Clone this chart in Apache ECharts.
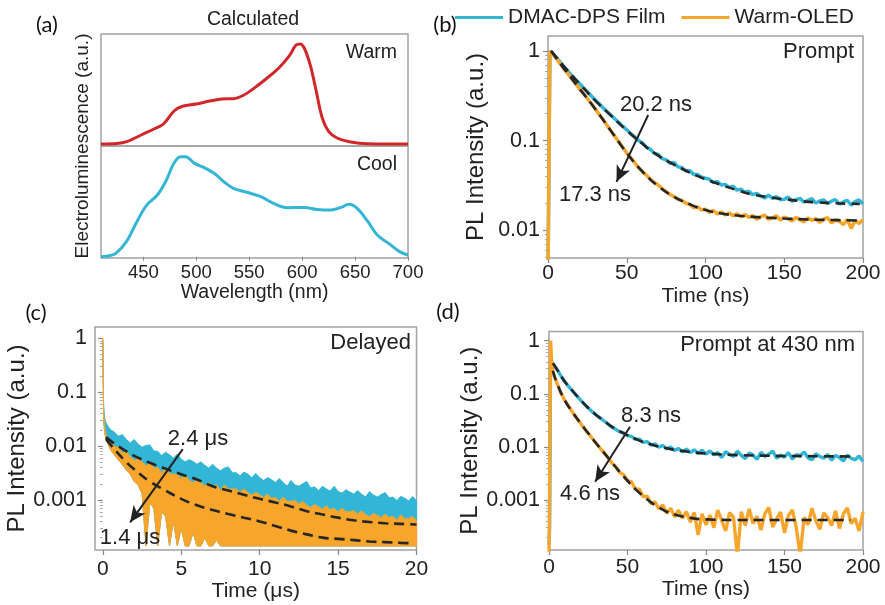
<!DOCTYPE html>
<html>
<head>
<meta charset="utf-8">
<script src="https://cdn.jsdelivr.net/npm/echarts@6/dist/echarts.min.js"></script>
<style>
  html, body { margin: 0; padding: 0; background: #fff; }
  #chart { width: 885px; height: 605px; }
</style>
</head>
<body>
<div id="chart"></div>
<script>
// (a) calculated EL spectra
var aWarmNm = [410, 425, 435, 450, 460, 469, 479, 487, 500, 513, 524, 535, 545, 557, 567, 578, 588, 594, 598, 602, 608, 613, 619, 625, 633, 646, 662, 700];
var aWarm = [0, 0.005, 0.027, 0.10, 0.15, 0.20, 0.33, 0.377, 0.40, 0.43, 0.45, 0.453, 0.49, 0.577, 0.66, 0.76, 0.883, 0.987, 1.0, 0.96, 0.777, 0.543, 0.26, 0.127, 0.06, 0.02, 0.003, 0];
var aCoolNm = [410, 418, 424, 434, 444, 453, 463, 471, 479, 485, 490, 498, 507, 518, 526, 535, 548, 561, 573, 586, 602, 614, 627, 637, 644, 652, 662, 671, 682, 692, 700];
var aCool = [0, 0.01, 0.033, 0.15, 0.35, 0.51, 0.61, 0.745, 0.93, 0.993, 0.993, 0.93, 0.887, 0.82, 0.745, 0.68, 0.64, 0.596, 0.53, 0.487, 0.49, 0.47, 0.464, 0.49, 0.52, 0.48, 0.35, 0.215, 0.13, 0.05, 0.017];

// (b) prompt, ns
var bTime = [0, 0.6, 1.2,
  2.5,5,7.5,10,12.5,15,17.5,20,22.5,25, 27.5,30,32.5,35,37.5,40,42.5,45,47.5,50,
  52.5,55,57.5,60,62.5,65,67.5,70,72.5,75, 77.5,80,82.5,85,87.5,90,92.5,95,97.5,100,
  102.5,105,107.5,110,112.5,115,117.5,120,122.5,125, 127.5,130,132.5,135,137.5,140,142.5,145,147.5,150,
  152.5,155,157.5,160,162.5,165,167.5,170,172.5,175, 177.5,180,182.5,185,187.5,190,192.5,195,197.5,200];
var bCyan = [0.003, 0.003, 1.0,
  0.96, 0.86, 0.76, 0.67, 0.60, 0.535, 0.48, 0.435, 0.39, 0.352,
  0.315, 0.285, 0.258, 0.232, 0.211, 0.192, 0.174, 0.159, 0.144, 0.132,
  0.120, 0.110, 0.100, 0.094, 0.084, 0.080, 0.072, 0.070, 0.063, 0.061,
  0.056, 0.057, 0.051, 0.050, 0.046, 0.046, 0.042, 0.042, 0.039, 0.038,
  0.037, 0.034, 0.035, 0.032, 0.0325, 0.030, 0.031, 0.028, 0.0288, 0.0265,
  0.0272, 0.0250, 0.0258, 0.0241, 0.0229, 0.0246, 0.0226, 0.0238, 0.0219, 0.0221,
  0.0234, 0.0211, 0.0220, 0.0227, 0.0205, 0.0216, 0.0225, 0.0201, 0.0212, 0.0218,
  0.0199, 0.0211, 0.0220, 0.0195, 0.0207, 0.0216, 0.0190, 0.0209, 0.0218, 0.0196];
var bOrange = [0.003, 0.003, 1.0,
  0.95, 0.84, 0.73, 0.64, 0.56, 0.49, 0.43, 0.38, 0.335, 0.295,
  0.258, 0.226, 0.196, 0.172, 0.148, 0.128, 0.111, 0.097, 0.084, 0.073,
  0.064, 0.057, 0.050, 0.045, 0.041, 0.037, 0.034, 0.032, 0.029, 0.027,
  0.025, 0.0238, 0.0222, 0.0215, 0.0200, 0.0195, 0.0178, 0.0182, 0.0168, 0.0172,
  0.0158, 0.0166, 0.0152, 0.0160, 0.0148, 0.0156, 0.0145, 0.0153, 0.0141, 0.0150,
  0.0139, 0.0146, 0.0133, 0.0141, 0.0148, 0.0132, 0.0138, 0.0145, 0.0130, 0.0140,
  0.0134, 0.0127, 0.0139, 0.0131, 0.0124, 0.0137, 0.0129, 0.0135, 0.0122, 0.0133,
  0.0138, 0.0121, 0.0130, 0.0126, 0.0115, 0.0132, 0.0105, 0.0128, 0.0119, 0.0131];
var bFitTime = [2, 10, 20, 30, 40, 50, 60, 70, 80, 90, 100, 110, 120, 130, 140, 150, 160, 170, 180, 190, 198];
var bFitCyan = [1.0, 0.68, 0.43, 0.28, 0.19, 0.13, 0.092, 0.068, 0.054, 0.044, 0.037, 0.032, 0.028, 0.025, 0.0235, 0.0222, 0.0212, 0.0205, 0.0201, 0.0198, 0.0197];
var bFitOrange = [1.0, 0.64, 0.38, 0.225, 0.128, 0.073, 0.045, 0.031, 0.0236, 0.0195, 0.0168, 0.0154, 0.0146, 0.0141, 0.0138, 0.0135, 0.0133, 0.0131, 0.013, 0.0129, 0.0128];

// (c) delayed, us  (noisy bands: upper edges and orange lower edge)
var cTime = [0, 0.05, 0.1, 0.15, 0.2, 0.3, 0.4, 0.5,
  0.75,1,1.25,1.5,1.75,2,2.25,2.5,2.75,3, 3.25,3.5,3.75,4,4.25,4.5,4.75,5,5.25,5.5,
  5.75,6,6.25,6.5,6.75,7,7.25,7.5,7.75,8, 8.25,8.5,8.75,9,9.25,9.5,9.75,10,10.25,10.5,
  10.75,11,11.25,11.5,11.75,12,12.25,12.5,12.75,13, 13.25,13.5,13.75,14,14.25,14.5,14.75,15,15.25,15.5,
  15.75,16,16.25,16.5,16.75,17,17.25,17.5,17.75,18, 18.25,18.5,18.75,19,19.25,19.5,19.75,20];
var cCyanTop = [0.9, 0.06, 0.035, 0.03, 0.027, 0.024, 0.022, 0.020,
  0.0180, 0.0152, 0.0163, 0.0133, 0.0114, 0.0132, 0.0109, 0.0095, 0.0103, 0.0105,
  0.0081, 0.0080, 0.0067, 0.0077, 0.0069, 0.0060, 0.0071, 0.0057, 0.0051, 0.0056,
  0.0052, 0.0046, 0.0051, 0.0044, 0.0039, 0.0046, 0.0039, 0.0035, 0.0039, 0.0041,
  0.0032, 0.0032, 0.0028, 0.0033, 0.0030, 0.0026, 0.0031, 0.0026, 0.0023, 0.0026,
  0.0024, 0.0021, 0.0025, 0.0021, 0.0018, 0.0023, 0.0019, 0.0018, 0.0020, 0.0022,
  0.00167, 0.00176, 0.00148, 0.0018, 0.0016, 0.00146, 0.0018, 0.00143, 0.00134, 0.00155,
  0.0014, 0.00129, 0.0015, 0.00128, 0.00114, 0.00143, 0.00124, 0.00113, 0.00126, 0.00137,
  0.0011, 0.00113, 0.00098, 0.00117, 0.00108, 0.00096, 0.00116, 0.00097];
var cOrangeTop = [1.0, 0.04, 0.025, 0.02, 0.017, 0.0145, 0.013, 0.0118,
  0.0098, 0.0095, 0.0074, 0.0080, 0.0063, 0.0054, 0.0058, 0.0051, 0.0043, 0.0048,
  0.0039, 0.0040, 0.0032, 0.0038, 0.0031, 0.0030, 0.0030, 0.0025, 0.0029, 0.0023,
  0.0021, 0.0023, 0.0021, 0.0018, 0.0021, 0.0018, 0.0019, 0.0015, 0.0019, 0.0016,
  0.0016, 0.0016, 0.0014, 0.0016, 0.00136, 0.00122, 0.00138, 0.00125, 0.0011, 0.00128,
  0.00106, 0.00112, 0.00094, 0.00113, 0.00095, 0.00094, 0.00098, 0.00083, 0.00095, 0.0008,
  0.00072, 0.00082, 0.00075, 0.00067, 0.00078, 0.00066, 0.0007, 0.00059, 0.00071, 0.00061,
  0.0006, 0.00064, 0.00054, 0.00063, 0.00053, 0.00049, 0.00056, 0.00052, 0.00047, 0.00055,
  0.00047, 0.0005, 0.00042, 0.00053, 0.00045, 0.00045, 0.00049, 0.00041];
var cOrangeLow = [0.9, 0.03, 0.02, 0.016, 0.0135, 0.0115, 0.0098, 0.0085,
  0.0068, 0.0055, 0.0045, 0.0036, 0.0030, 0.0022, 0.0019, 0.0013, 0.00014, 0.0009,
  0.0007, 0.00014, 0.0006, 0.0005, 0.00014, 0.0004, 0.00014, 0.0003, 0.00014, 0.00014,
  0.00025, 0.00014, 0.00014, 0.0002, 0.00014, 0.00014, 0.00018, 0.00014, 0.00014, 0.00014,
  0.00014, 0.00014, 0.00014, 0.00014, 0.00014, 0.00014, 0.00014, 0.00014, 0.00014, 0.00014, 0.00014, 0.00014,
  0.00014, 0.00014, 0.00014, 0.00014, 0.00014, 0.00014, 0.00014, 0.00014, 0.00014, 0.00014, 0.00014, 0.00014,
  0.00014, 0.00014, 0.00014, 0.00014, 0.00014, 0.00014, 0.00014, 0.00014, 0.00014, 0.00014, 0.00014, 0.00014,
  0.00014, 0.00014, 0.00014, 0.00014, 0.00014, 0.00014, 0.00014, 0.00014, 0.00014, 0.00014, 0.00014, 0.00014];
var cFitTimeA = [0.2, 0.5, 1, 1.5, 2, 3, 4, 5, 6, 7, 8, 9, 10, 11, 12, 13, 14, 15, 16, 17, 18, 19, 20];
var cFitCyan = [0.0147, 0.0125, 0.0099, 0.0080, 0.0066, 0.0049, 0.0038, 0.0030, 0.0024, 0.0018, 0.0015, 0.00125, 0.00105, 0.0009, 0.00076, 0.00062, 0.00054, 0.00047, 0.00042, 0.00039, 0.00037, 0.00036, 0.00035];
var cFitTimeB = [0.2, 0.5, 1, 1.5, 2, 3, 4, 5, 6, 7, 8, 9, 10, 11, 12, 13, 14, 15, 16, 17, 18, 19, 19.5];
var cFitOrange = [0.0135, 0.0105, 0.0072, 0.0050, 0.0037, 0.0022, 0.0015, 0.00105, 0.0008, 0.00065, 0.00055, 0.00047, 0.0004, 0.00033, 0.00027, 0.00023, 0.0002, 0.00019, 0.00018, 0.00017, 0.000165, 0.00016, 0.000158];

// (d) prompt at 430 nm, ns
var dTime = [0, 0.4, 0.8, 1.0, 1.6,
  2.5,5,7.5,10,12.5,15,17.5,20,22.5,25, 27.5,30,32.5,35,37.5,40,42.5,45,47.5,50,
  52.5,55,57.5,60,62.5,65,67.5,70,72.5,75, 77.5,80,82.5,85,87.5,90,92.5,95,97.5,100,
  102.5,105,107.5,110,112.5,115,117.5,120,122.5,125, 127.5,130,132.5,135,137.5,140,142.5,145,147.5,150,
  152.5,155,157.5,160,162.5,165,167.5,170,172.5,175, 177.5,180,182.5,185,187.5,190,192.5,195,197.5,200];
var dCyan = [0.00014, 0.0003, 0.00028, 0.38, 0.38,
  0.37, 0.29, 0.22, 0.17, 0.138, 0.113, 0.093, 0.077, 0.064, 0.054,
  0.046, 0.040, 0.035, 0.031, 0.027, 0.0235, 0.0215, 0.0192, 0.0183, 0.0163,
  0.0157, 0.0139, 0.0140, 0.0121, 0.0126, 0.0108, 0.0114, 0.0098, 0.0106, 0.0091,
  0.0099, 0.0086, 0.0093, 0.0080, 0.0091, 0.0078, 0.0088, 0.0075, 0.0086, 0.0073,
  0.0084, 0.0071, 0.0078, 0.0063, 0.0081, 0.0072, 0.0066, 0.0083, 0.0069, 0.0060,
  0.0077, 0.0070, 0.0058, 0.0079, 0.0066, 0.0073, 0.0083, 0.0061, 0.0070, 0.0064,
  0.0078, 0.0059, 0.0071, 0.0068, 0.0080, 0.0062, 0.0057, 0.0074, 0.0066, 0.0061,
  0.0072, 0.0056, 0.0069, 0.0063, 0.0054, 0.0070, 0.0061, 0.0057, 0.0067, 0.0053];
var dOrange = [0.00005, 0.00005, 0.00005, 1.0, 0.45,
  0.26, 0.16, 0.105, 0.076, 0.058, 0.045, 0.035, 0.028, 0.022, 0.018,
  0.0145, 0.0117, 0.0095, 0.0078, 0.0063, 0.0050, 0.0042, 0.0033, 0.0030, 0.0023,
  0.0022, 0.0016, 0.0016, 0.00115, 0.00118, 0.00085, 0.00092, 0.00068, 0.00080, 0.00056,
  0.00070, 0.00048, 0.00064, 0.00045, 0.00060, 0.00038, 0.00058, 0.00022, 0.00055, 0.00034,
  0.00052, 0.00030, 0.00064, 0.00041, 0.00026, 0.00058, 0.00047, 0.00009, 0.00060, 0.00033,
  0.00068, 0.00036, 0.00049, 0.00027, 0.00055, 0.00072, 0.00031, 0.00044, 0.00059, 0.00024,
  0.00051, 0.00065, 0.00030, 0.00009, 0.00047, 0.00034, 0.00070, 0.00040, 0.00028, 0.00057,
  0.00046, 0.00033, 0.00062, 0.00029, 0.00054, 0.00071, 0.00036, 0.00045, 0.00026, 0.00060];
var dFitTime = [2.5, 5, 10, 15, 20, 25, 30, 35, 40, 45, 50, 55, 60, 65, 70, 75, 80, 90, 100, 120, 140, 160, 192];
var dFitCyan = [0.375, 0.29, 0.17, 0.113, 0.077, 0.054, 0.040, 0.031, 0.024, 0.0198, 0.0165, 0.0142, 0.0123, 0.0111, 0.0101, 0.0094, 0.0088, 0.008, 0.0075, 0.007, 0.0068, 0.0067, 0.0066];
var dFitOrange = [0.27, 0.16, 0.076, 0.045, 0.028, 0.018, 0.0117, 0.0078, 0.0051, 0.0034, 0.0023, 0.0016, 0.00118, 0.0009, 0.00072, 0.0006, 0.00053, 0.00046, 0.00043, 0.00042, 0.00042, 0.00042, 0.00042];

var logTicks = [0.001, 0.01, 0.1, 1];

var FONT = 'Liberation Sans, Arial, sans-serif';
var CYAN = '#33b6d6', ORANGE = '#f8a52c', RED = '#d3262b', DASH = '#262626', TXT = '#222';
var FRAME = '#a3a3a3';

function pairs(xs, ys) {
    return xs.map(function (x, i) { return [x, ys[i]]; });
}
function arrow(from, to) {
    return {
        silent: true, animation: false,
        symbol: ['none', 'arrow'], symbolSize: [11, 16],
        lineStyle: {type: 'solid', color: '#222', width: 2},
        label: {show: false},
        data: [[{coord: from}, {coord: to}]]
    };
}
function gridBox(left, top, width, height) {
    return {left: left, top: top, width: width, height: height, show: true,
        borderColor: FRAME, borderWidth: 1.5, containLabel: false};
}
function timeAxis(grid, min, max, name, gap, margin, ticks) {
    return {
        type: 'value', gridIndex: grid, min: min, max: max,
        name: name, nameLocation: 'middle', nameGap: gap,
        nameTextStyle: {fontFamily: FONT, fontSize: 21, color: TXT},
        axisLine: {show: false},
        axisTick: {show: true, inside: false, length: 5, customValues: ticks, lineStyle: {color: '#888', width: 1.2}},
        axisLabel: {fontFamily: FONT, fontSize: 21, color: TXT, margin: margin, customValues: ticks},
        splitLine: {show: false}
    };
}
function logAxis(grid, min, max, gap, margin) {
    var t = logTicks.filter(function (v) { return v >= min && v <= max; });
    return {
        type: 'log', logBase: 10, gridIndex: grid, min: min, max: max,
        name: 'PL Intensity (a.u.)', nameLocation: 'middle', nameGap: gap, nameRotate: 90,
        nameTextStyle: {fontFamily: FONT, fontSize: 24, color: TXT},
        axisLine: {show: false},
        axisTick: {show: true, length: 5, customValues: t, lineStyle: {color: '#888', width: 1.2}},
        minorTick: {show: true, splitNumber: 9, length: 3, lineStyle: {color: '#aaa', width: 1}},
        axisLabel: {fontFamily: FONT, fontSize: 21.5, color: TXT, margin: margin, customValues: t},
        splitLine: {show: false}, minorSplitLine: {show: false}
    };
}
function noisy(name, x, y, data, color, width) {
    return {name: name, type: 'line', xAxisIndex: x, yAxisIndex: y, data: data,
        showSymbol: false, symbol: 'none', color: color,
        lineStyle: {color: color, width: width}, z: 2};
}
// filled noise band between an upper and a lower edge, placed with the axes' own coords
function band(x, y, times, top, low, color, z) {
    return {
        type: 'custom', xAxisIndex: x, yAxisIndex: y, z: z, silent: true, clip: true,
        data: times.map(function (t, i) { return [t, top[i], low[i]]; }),
        encode: {x: 0, y: [1, 2]},
        renderItem: function (params, api) {
            if (params.dataIndex !== 0) return null;
            var up = [], dn = [];
            for (var i = 0; i < times.length; i++) {
                up.push(api.coord([times[i], top[i]]));
                dn.push(api.coord([times[i], low[i]]));
            }
            return {type: 'polygon', shape: {points: up.concat(dn.reverse())},
                style: {fill: color, stroke: color, lineWidth: 1}};
        }
    };
}
function fit(x, y, data, mark) {
    var s = {type: 'line', xAxisIndex: x, yAxisIndex: y, data: data, smooth: true,
        showSymbol: false, symbol: 'none', color: DASH,
        lineStyle: {color: DASH, width: 2.6, type: [10, 6]}, z: 5};
    if (mark) s.markLine = mark;
    return s;
}
function txt(text, x, y, size, align, extra) {
    var o = {type: 'text', x: x, y: y, silent: true, z: 100,
        style: {text: text, fontFamily: FONT, fontSize: size, fill: TXT,
            align: align || 'center', verticalAlign: 'middle'}};
    if (extra) for (var k in extra) o[k] = extra[k];
    return o;
}
function letter(text, x, y) {
    var o = txt(text, x, y, 22);
    o.style.fontFamily = 'Lato, Open Sans, sans-serif';
    o.style.fill = '#111';
    return o;
}

var chart = echarts.init(document.getElementById('chart'), null, {renderer: 'canvas'});

var option = {
    animation: false,
    backgroundColor: '#fff',
    legend: {
        data: ['DMAC-DPS Film', 'Warm-OLED'],
        left: 450, top: 2, icon: 'rect', itemWidth: 48, itemHeight: 3, itemGap: 16,
        textStyle: {fontFamily: FONT, fontSize: 21, color: TXT},
        selectedMode: false
    },
    grid: [
        gridBox(101, 34, 307, 112),
        gridBox(101, 146, 307, 112),
        gridBox(548, 36, 315, 222),
        gridBox(95, 327, 321.5, 223),
        gridBox(549, 331.5, 314, 218.5)
    ],
    xAxis: [
        {type: 'value', gridIndex: 0, min: 410, max: 700, show: false},
        {type: 'value', gridIndex: 1, min: 410, max: 700,
            name: 'Wavelength (nm)', nameLocation: 'middle', nameGap: 24,
            nameTextStyle: {fontFamily: FONT, fontSize: 19.5, color: TXT},
            axisLine: {show: false},
            axisTick: {show: true, length: 4, customValues: [450, 500, 550, 600, 650, 700], lineStyle: {color: '#888'}},
            axisLabel: {fontFamily: FONT, fontSize: 18.5, color: TXT, margin: 5,
                customValues: [450, 500, 550, 600, 650, 700]},
            splitLine: {show: false}},
        timeAxis(2, 0, 200, 'Time (ns)', 28, 5, [0, 50, 100, 150, 200]),
        timeAxis(3, -0.5, 20, 'Time (\u03bcs)', 29, 9, [0, 5, 10, 15, 20]),
        timeAxis(4, 0, 200, 'Time (ns)', 28, 7, [0, 50, 100, 150, 200])
    ],
    yAxis: [
        {type: 'value', gridIndex: 0, min: -0.02, max: 1.1, show: false, splitLine: {show: false}},
        {type: 'value', gridIndex: 1, min: -0.013, max: 1.1, show: false, splitLine: {show: false}},
        logAxis(2, 0.0049, 1.47, 60, 8),
        logAxis(3, 0.000118, 1.62, 63, 8),
        logAxis(4, 0.000114, 1.49, 60, 9)
    ],
    series: [
        // (a)
        {type: 'line', xAxisIndex: 0, yAxisIndex: 0, data: pairs(aWarmNm, aWarm), smooth: 0.35,
            showSymbol: false, symbol: 'none', color: RED, lineStyle: {color: RED, width: 3}},
        {type: 'line', xAxisIndex: 1, yAxisIndex: 1, data: pairs(aCoolNm, aCool), smooth: 0.35,
            showSymbol: false, symbol: 'none', color: CYAN, lineStyle: {color: CYAN, width: 3}},
        // (b)
        noisy('DMAC-DPS Film', 2, 2, pairs(bTime, bCyan), CYAN, 3.5),
        noisy('Warm-OLED', 2, 2, pairs(bTime, bOrange), ORANGE, 3.5),
        fit(2, 2, pairs(bFitTime, bFitCyan), arrow([63.6, 0.193], [43.5, 0.0347])),
        fit(2, 2, pairs(bFitTime, bFitOrange)),
        // (c) noise bands
        band(3, 3, cTime, cCyanTop, cOrangeLow, CYAN, 1),
        band(3, 3, cTime, cOrangeTop, cOrangeLow, ORANGE, 2),
        fit(3, 3, pairs(cFitTimeA, cFitCyan), arrow([5.1, 0.0088], [1.74, 0.000385])),
        fit(3, 3, pairs(cFitTimeB, cFitOrange)),
        // (d)
        noisy('DMAC-DPS Film', 4, 4, pairs(dTime, dCyan), CYAN, 3.4),
        noisy('Warm-OLED', 4, 4, pairs(dTime, dOrange), ORANGE, 3.4),
        fit(4, 4, pairs(dFitTime, dFitCyan), arrow([51.6, 0.024], [29.4, 0.0022])),
        fit(4, 4, pairs(dFitTime, dFitOrange))
    ],
    graphic: [
        letter('(a)', 47, 25),
        txt('Calculated', 253, 20, 19.5),
        txt('Warm', 397, 53, 19.5, 'right'),
        txt('Cool', 397, 165, 19.5, 'right'),
        txt('Electroluminescence (a.u.)', 83, 146, 19, 'center', {rotation: Math.PI / 2}),
        letter('(b)', 445, 25),
        txt('Prompt', 854, 52, 22, 'right'),
        txt('20.2 ns', 656, 105, 22),
        txt('17.3 ns', 595, 195, 22),
        letter('(c)', 36, 313),
        txt('Delayed', 411, 343, 22, 'right'),
        txt('2.4 \u03bcs', 198, 439, 22),
        txt('1.4 \u03bcs', 130, 538, 22),
        letter('(d)', 448, 312),
        txt('Prompt at 430 nm', 855, 345, 22, 'right'),
        txt('8.3 ns', 651, 416, 22),
        txt('4.6 ns', 590, 494, 22)
    ]
};
chart.setOption(option);
</script>
</body>
</html>
